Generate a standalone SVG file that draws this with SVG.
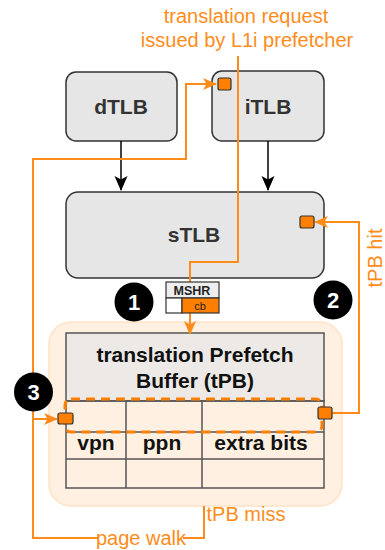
<svg xmlns="http://www.w3.org/2000/svg" width="385" height="550" viewBox="0 0 385 550">
<defs>
<style>
.box{fill:#e6e6e6;stroke:#333;stroke-width:1.5}
.lbl{font-family:"Liberation Sans",Arial,sans-serif;font-weight:bold;font-size:21px;fill:#333;text-anchor:middle}
.tbl{font-family:"Liberation Sans",Arial,sans-serif;font-weight:bold;font-size:21px;fill:#111;text-anchor:middle}
.otxt{font-family:"Liberation Sans",Arial,sans-serif;font-size:20px;fill:#ff8c1a}
.oline{fill:none;stroke:#ff8c1a;stroke-width:2}
.bline{fill:none;stroke:#000;stroke-width:1.5}
.sq{fill:#ff8000;stroke:#333;stroke-width:1.2}
.cell{fill:none;stroke:#555;stroke-width:1.5}
.num{font-family:"Liberation Sans",Arial,sans-serif;font-weight:bold;font-size:22px;fill:#fff;text-anchor:middle}
</style>
<marker id="oa" viewBox="0 0 14 14" refX="13" refY="7" markerWidth="14" markerHeight="14" markerUnits="userSpaceOnUse" orient="auto">
<path d="M0,1 L14,7 L0,13 L3.5,7 Z" fill="#ff8c1a"/>
</marker>
<marker id="ba" viewBox="0 0 15 14" refX="14" refY="7" markerWidth="15" markerHeight="14" markerUnits="userSpaceOnUse" orient="auto">
<path d="M0,0.5 L15,7 L0,13.5 L3.5,7 Z" fill="#000"/>
</marker>
</defs>

<g id="dTLB">
<rect class="box" x="66" y="72" width="111" height="69" rx="10"/>
<text class="lbl" x="121" y="114">dTLB</text>
</g>
<g id="iTLB">
<rect class="box" x="212" y="71" width="112" height="70" rx="10"/>
<text class="lbl" x="268" y="114">iTLB</text>
</g>
<g id="sTLB">
<rect class="box" x="66" y="192" width="258" height="86" rx="12"/>
<text class="lbl" x="194" y="242">sTLB</text>
</g>

<g id="tPB">
<rect x="49" y="322" width="293" height="184" rx="22" fill="#fff0e1" stroke="#ffe2c6" stroke-width="1.5"/>
<rect x="66" y="333" width="258" height="68" fill="#ece9e6" stroke="#555" stroke-width="1.5"/>
<text class="tbl" x="195" y="362">translation Prefetch</text>
<text class="tbl" x="195" y="388">Buffer (tPB)</text>
<rect class="cell" x="66" y="401" width="258" height="87"/>
<line class="cell" x1="66" y1="432" x2="324" y2="432"/>
<line class="cell" x1="66" y1="459" x2="324" y2="459"/>
<line class="cell" x1="126" y1="401" x2="126" y2="488"/>
<line class="cell" x1="202" y1="401" x2="202" y2="488"/>
<text class="tbl" x="96" y="450">vpn</text>
<text class="tbl" x="162" y="450">ppn</text>
<text class="tbl" x="261" y="450">extra bits</text>
<rect x="65" y="399" width="257" height="33" rx="6" fill="none" stroke="#ff8000" stroke-width="3" stroke-dasharray="9,6"/>
</g>

<g id="connectors">
<path class="bline" d="M121,141 V190" marker-end="url(#ba)"/>
<path class="bline" d="M268,141 V190" marker-end="url(#ba)"/>
<path class="oline" d="M238,56 V262 H190 V334" marker-end="url(#oa)"/>
<path class="oline" d="M204,506 V538 H183 M99,538 H33 V159 H186 V84 H216" marker-end="url(#oa)"/>
<path class="oline" d="M33,419 H57" marker-end="url(#oa)"/>
<path class="oline" d="M332,413 H359 V222 H315" marker-end="url(#oa)"/>
</g>

<g id="MSHR">
<rect x="166" y="282" width="53" height="16" fill="#eeeeee" stroke="#333" stroke-width="1.2"/>
<rect x="166" y="298" width="16" height="15" fill="#fff" stroke="#333" stroke-width="1.2"/>
<rect x="182" y="298" width="37" height="15" fill="#ff8000" stroke="#333" stroke-width="1.2"/>
<text x="192" y="295" font-family="Liberation Sans, Arial, sans-serif" font-weight="bold" font-size="12.5" fill="#222" text-anchor="middle">MSHR</text>
<text x="200" y="310" font-family="Liberation Sans, Arial, sans-serif" font-size="11" fill="#222" text-anchor="middle">cb</text>
</g>

<g id="squares">
<rect class="sq" x="218" y="78" width="13" height="12" rx="2"/>
<rect class="sq" x="300" y="216" width="14" height="12" rx="2"/>
<rect class="sq" x="58" y="413" width="15" height="11" rx="2"/>
<rect class="sq" x="318" y="407" width="14" height="12" rx="2"/>
</g>

<g id="labels">
<text class="otxt" x="246" y="23" text-anchor="middle">translation request</text>
<text class="otxt" x="247" y="47" text-anchor="middle">issued by L1i prefetcher</text>
<text class="otxt" x="246" y="521" text-anchor="middle">tPB miss</text>
<text class="otxt" x="141" y="545" text-anchor="middle" font-size="19">page walk</text>
<text class="otxt" transform="translate(382,258) rotate(-90)" text-anchor="middle">tPB hit</text>
</g>

<g id="badge1"><circle cx="134" cy="302" r="19.5" fill="#000"/><text class="num" x="134" y="310">1</text></g>
<g id="badge2"><circle cx="333" cy="300" r="19.5" fill="#000"/><text class="num" x="333" y="308">2</text></g>
<g id="badge3"><circle cx="33.5" cy="392" r="19.5" fill="#000"/><text class="num" x="33.5" y="400">3</text></g>
</svg>
